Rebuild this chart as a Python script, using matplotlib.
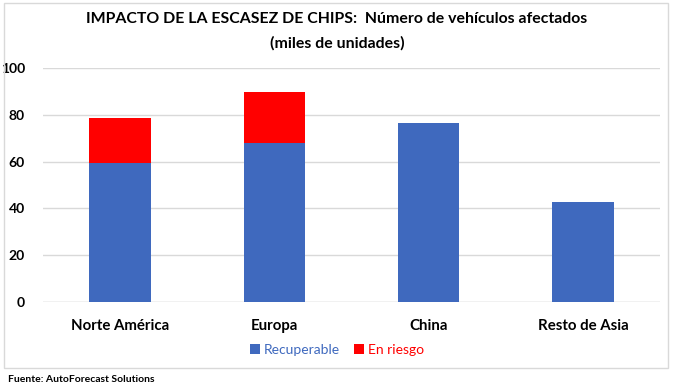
import matplotlib.pyplot as plt
from matplotlib.patches import Rectangle

# Chart values (miles de unidades)
regiones = ['Norte América', 'Europa', 'China', 'Resto de Asia']
recuperable = [59.5, 68, 76.5, 42.7]
en_riesgo = [19.2, 21.7, 0, 0]
yticks = [0, 20, 40, 60, 80, 100]

plt.rcParams['font.family'] = ['Lato', 'DejaVu Sans']

azul = '#3F69BE'
rojo = '#FF0000'

fig = plt.figure(figsize=(6.74, 3.91), dpi=100)
ax = fig.add_axes([43 / 674, 1 - 302 / 391, 617 / 674, 234 / 391])

x = range(len(regiones))
ax.bar(x, recuperable, width=0.4, color=azul, zorder=3, label='Recuperable')
ax.bar(x, en_riesgo, width=0.4, bottom=recuperable, color=rojo, zorder=3, label='En riesgo')

ax.set_xlim(-0.5, len(regiones) - 0.5)
ax.set_ylim(0, 100)
ax.set_yticks(yticks)
ax.set_yticklabels([str(t) for t in yticks], fontsize=10, fontweight='bold')
ax.set_xticks(list(x))
ax.set_xticklabels(regiones, fontsize=10.8, fontweight='bold')
ax.tick_params(axis='both', length=0)
ax.tick_params(axis='x', pad=12)
ax.tick_params(axis='y', pad=13)
ax.grid(axis='y', color='#D9D9D9', linewidth=1, zorder=0)
for s in ax.spines.values():
    s.set_visible(False)
ax.axhline(0, color='#D9D9D9', linewidth=1, zorder=1)

fig.text(0.5, 1 - 19 / 391, 'IMPACTO DE LA ESCASEZ DE CHIPS:  Número de vehículos afectados',
         ha='center', va='center', fontsize=11.4, fontweight='bold')
fig.text(0.5, 1 - 43 / 391, '(miles de unidades)',
         ha='center', va='center', fontsize=11.4, fontweight='bold')

leg = fig.legend(loc='center', bbox_to_anchor=(337 / 674, 1 - 350 / 391), ncol=2,
                 frameon=False, fontsize=10, handlelength=0.7, handleheight=0.7,
                 handletextpad=0.3, columnspacing=1.0)
for txt, c in zip(leg.get_texts(), [azul, rojo]):
    txt.set_color(c)

fig.patches.append(Rectangle((4 / 674, 1 - 368 / 391), 664 / 674, 365 / 391,
                             transform=fig.transFigure, fill=False,
                             edgecolor='#D9D9D9', linewidth=1))

fig.text(8 / 674, 1 - 380 / 391, 'Fuente: AutoForecast Solutions',
         ha='left', va='center', fontsize=7.5, fontweight='bold')

fig.savefig('out.png', dpi=100)
